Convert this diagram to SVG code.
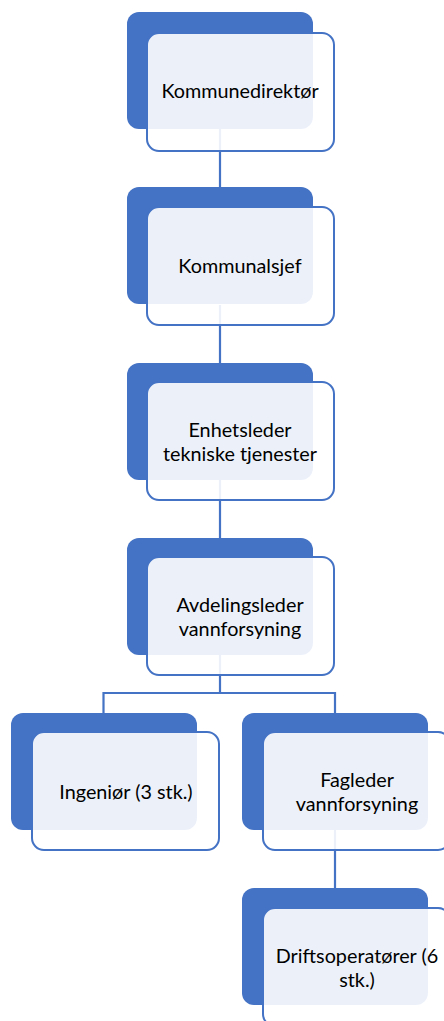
<svg xmlns="http://www.w3.org/2000/svg" width="444" height="1021" viewBox="0 0 444 1021">
<style>
.back{fill:#4472C4;}
.front{fill:#ffffff;fill-opacity:0.9;stroke:#4472C4;stroke-width:2;}
.conn{fill:none;stroke:#4472C4;stroke-width:2.2;}
text{font-family:Lato,"Open Sans","Liberation Sans",sans-serif;font-size:19.8px;fill:#000;text-anchor:middle;}
</style>
<rect width="444" height="1021" fill="#ffffff"/>
<g id="connectors">
<path class="conn" d="M220,129V187"/>
<path class="conn" d="M220,305V363"/>
<path class="conn" d="M220,479V538"/>
<path class="conn" d="M220,654V693H103.5V713M220,693H335V713"/>
<path class="conn" d="M335,829V888"/>
</g>
<g id="n1">
<rect class="back" x="127" y="12" width="186" height="117" rx="12"/>
<rect class="front" x="147" y="33" width="187" height="118" rx="12"/>
<text x="240" y="98">Kommunedirektør</text>
</g>
<g id="n2">
<rect class="back" x="127" y="187" width="186" height="117" rx="12"/>
<rect class="front" x="147" y="207" width="187" height="118" rx="12"/>
<text x="240" y="273">Kommunalsjef</text>
</g>
<g id="n3">
<rect class="back" x="127" y="363" width="186" height="117" rx="12"/>
<rect class="front" x="147" y="382" width="187" height="118" rx="12"/>
<text x="240" y="437">Enhetsleder</text>
<text x="240" y="461">tekniske tjenester</text>
</g>
<g id="n4">
<rect class="back" x="127" y="538" width="186" height="117" rx="12"/>
<rect class="front" x="147" y="557" width="187" height="118" rx="12"/>
<text x="240" y="612">Avdelingsleder</text>
<text x="240" y="636">vannforsyning</text>
</g>
<g id="n5">
<rect class="back" x="11" y="713" width="186" height="117" rx="12"/>
<rect class="front" x="32" y="732" width="187" height="118" rx="12"/>
<text x="126" y="799">Ingeniør (3 stk.)</text>
</g>
<g id="n6">
<rect class="back" x="242" y="713" width="186" height="117" rx="12"/>
<rect class="front" x="263" y="732" width="187" height="118" rx="12"/>
<text x="357" y="787">Fagleder</text>
<text x="357" y="811">vannforsyning</text>
</g>
<g id="n7">
<rect class="back" x="242" y="888" width="186" height="117" rx="12"/>
<rect class="front" x="263" y="908" width="187" height="118" rx="12"/>
<text x="357" y="963">Driftsoperatører (6</text>
<text x="357" y="987">stk.)</text>
</g>
</svg>
